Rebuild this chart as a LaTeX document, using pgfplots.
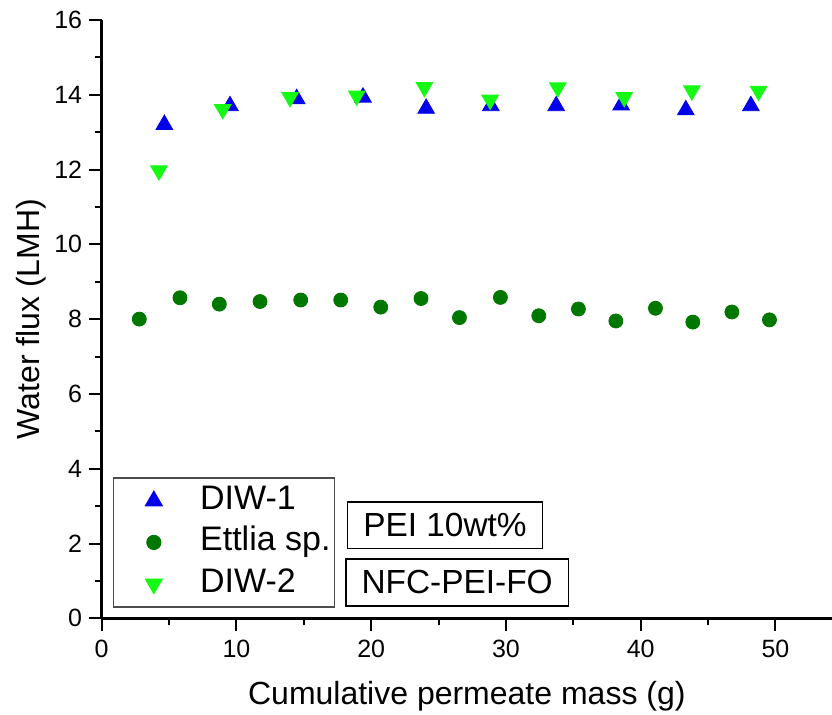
\documentclass[border=0pt]{standalone}
\usepackage{fontspec}
\setmainfont{Liberation Sans}
\usepackage{pgfplots}
\pgfplotsset{compat=1.18}

\definecolor{diwone}{RGB}{0,0,235}
\definecolor{ettlia}{RGB}{0,120,0}
\definecolor{diwtwo}{RGB}{20,250,20}

\begin{document}
\begin{tikzpicture}
\begin{axis}[
  scale only axis, width=365.15pt, height=299.2pt,
  xmin=0, xmax=54.2, ymin=0, ymax=16,
  axis x line*=bottom, axis y line*=left,
  axis line style={line width=1.3pt},
  xtick={0,10,20,30,40,50}, minor xtick={5,15,25,35,45},
  ytick={0,2,4,6,8,10,12,14,16}, minor ytick={1,3,5,7,9,11,13,15},
  tick align=outside,
  major tick length=6.25pt, minor tick length=3.5pt,
  every tick/.style={black, line width=1pt},
  tick label style={font=\fontsize{12.5}{15}\selectfont},
  /pgf/number format/assume math mode=true,
  xticklabel style={yshift=-1pt},
  xlabel={Cumulative permeate mass (g)},
  ylabel={Water flux (LMH)},
  label style={font=\fontsize{16}{19}\selectfont},
  xlabel style={yshift=-5pt},
  ylabel style={yshift=-3pt},
  legend cell align=left,
  legend style={at={(0.015,0.018)}, anchor=south west,
    draw=black!70, line width=0.6pt, fill=white,
    font=\fontsize{17}{20}\selectfont,
    inner xsep=1pt, inner ysep=2.75pt, row sep=3.25pt,
    nodes={inner sep=1pt, text height=12pt, text depth=3.5pt}},
  legend image code/.code={\path (0pt,0pt); \draw[#1] plot coordinates {(19pt,0pt)};},
]
\addplot[only marks, mark=triangle*, mark size=4.8pt, color=diwone] coordinates {
  (4.65,13.20) (9.52,13.70) (14.47,13.89) (19.39,13.93) (24.08,13.63)
  (28.88,13.70) (33.73,13.70) (38.55,13.72) (43.35,13.59) (48.18,13.70)
};
\addlegendentry{\hspace{18pt}DIW-1}
\addplot[only marks, mark=*, mark size=3.5pt, color=ettlia] coordinates {
  (2.79,8.00) (5.81,8.57) (8.73,8.40) (11.75,8.47) (14.77,8.51)
  (17.74,8.51) (20.71,8.32) (23.70,8.55) (26.55,8.04) (29.59,8.58)
  (32.44,8.09) (35.38,8.27) (38.16,7.95) (41.10,8.29) (43.87,7.92)
  (46.77,8.19) (49.56,7.98)
};
\addlegendentry{\hspace{18pt}Ettlia sp.}
\addplot[only marks, mark=triangle*, mark size=4.8pt, color=diwtwo,
  every mark/.append style={rotate=180}] coordinates {
  (4.25,11.97) (8.98,13.61) (13.98,13.93) (18.93,13.97) (23.95,14.20)
  (28.83,13.86) (33.85,14.19) (38.78,13.93) (43.80,14.11) (48.75,14.10)
};
\addlegendentry{\hspace{18pt}DIW-2}
\end{axis}
\node[draw=black, line width=0.8pt, minimum width=97.3pt, minimum height=23.3pt,
  font=\fontsize{16.7}{19}\selectfont] at (171.65pt,46.65pt) {PEI 10wt\%};
\node[draw=black, line width=0.8pt, minimum width=111.2pt, minimum height=23.3pt,
  font=\fontsize{16.7}{19}\selectfont] at (177.7pt,17.95pt) {NFC-PEI-FO};
\pgfresetboundingbox
\path[use as bounding box] (-50.85pt,-47.85pt) rectangle (365.15pt,309.15pt);
\end{tikzpicture}
\end{document}
